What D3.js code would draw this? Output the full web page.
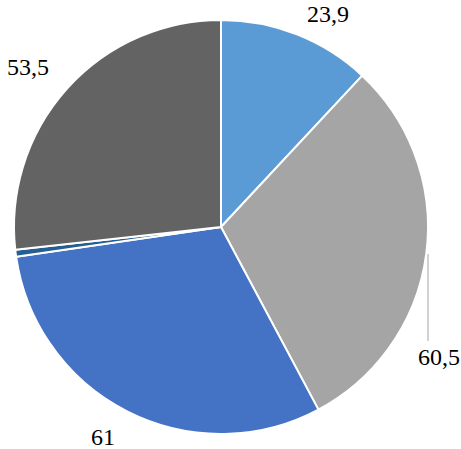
<!DOCTYPE html>
<html><head><meta charset="utf-8">
<script src="https://cdn.jsdelivr.net/npm/d3@7"></script>
<style>html,body{margin:0;padding:0;background:#fff;}</style>
</head><body>
<svg id="c" width="461" height="449"></svg>
<script>
const categories = ["A","B","C","D","E"];
const values = [23.9, 60.5, 61, 1.1, 53.5];
const labels = ["23,9", "60,5", "61", "", "53,5"];
const colors = ["#5B9BD5", "#A5A5A5", "#4472C4", "#255E91", "#636363"];

const cx = 221, cy = 227, r = 207;
// label placement (layout only)
const labelLayout = [
  {x: 307, y: 22},
  {x: 418, y: 365},
  {x: 91, y: 445},
  null,
  {x: 7, y: 75}
];

const svg = d3.select("#c");
const g = svg.append("g").attr("transform", `translate(${cx},${cy})`);
const pie = d3.pie().sort(null).value(d => d)(values);
const arc = d3.arc().innerRadius(0).outerRadius(r);

g.selectAll("path").data(pie).join("path")
  .attr("d", arc)
  .attr("fill", (d,i) => colors[i])
  .attr("stroke", "#fff")
  .attr("stroke-width", 2)
  .attr("stroke-linejoin", "round");

// leader line for 60,5
svg.append("line")
  .attr("x1", 428).attr("y1", 254).attr("x2", 428).attr("y2", 341)
  .attr("stroke", "#A5A5A5").attr("stroke-width", 1);

labels.forEach((t, i) => {
  if (!t) return;
  const L = labelLayout[i];
  svg.append("text").attr("x", L.x).attr("y", L.y)
    .style("font-family", '"Liberation Serif"')
    .style("font-size", "24px")
    .style("fill", "#000")
    .text(t);
});
</script>
</body></html>
